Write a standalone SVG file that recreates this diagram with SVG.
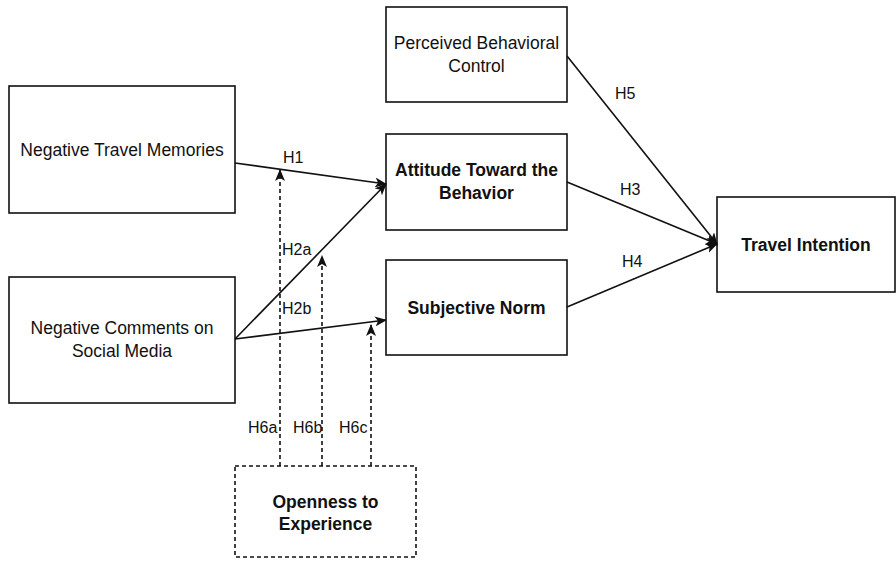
<svg xmlns="http://www.w3.org/2000/svg" width="896" height="562" viewBox="0 0 896 562">
<style>
.box{fill:#fff;stroke:#111;stroke-width:1.6}
.dbox{fill:#fff;stroke:#111;stroke-width:1.6;stroke-dasharray:4 3}
.t{font-family:"Liberation Sans",Arial,sans-serif;font-size:17.5px;fill:#111;text-anchor:middle}
.b{font-weight:bold}
.lbl{font-family:"Liberation Sans",Arial,sans-serif;font-size:16px;fill:#111}
.ln{fill:none;stroke:#111;stroke-width:1.6}
.dl{fill:none;stroke:#111;stroke-width:1.6;stroke-dasharray:4 3}
</style>
<defs>
<marker id="ah" viewBox="0 0 12 10" refX="11" refY="5" markerWidth="12" markerHeight="10" markerUnits="userSpaceOnUse" orient="auto">
<path d="M0,0 L12,5 L0,10 L3,5 Z" fill="#111"/>
</marker>
</defs>
<rect width="896" height="562" fill="#fff"/>
<g id="ntm"><rect class="box" x="9" y="86" width="226" height="127"/><text class="t" x="122" y="156">Negative Travel Memories</text></g>
<g id="ncsm"><rect class="box" x="9" y="277" width="226" height="126"/><text class="t" x="122" y="334">Negative Comments on</text><text class="t" x="122" y="357">Social Media</text></g>
<g id="pbc"><rect class="box" x="386" y="7" width="181" height="95"/><text class="t" x="476.5" y="49">Perceived Behavioral</text><text class="t" x="476.5" y="72">Control</text></g>
<g id="att"><rect class="box" x="386" y="134" width="181" height="96"/><text class="t b" x="476.5" y="176">Attitude Toward the</text><text class="t b" x="476.5" y="199">Behavior</text></g>
<g id="sn"><rect class="box" x="386" y="260" width="181" height="95"/><text class="t b" x="476.5" y="314">Subjective Norm</text></g>
<g id="ti"><rect class="box" x="717" y="197" width="178" height="95"/><text class="t b" x="806" y="251">Travel Intention</text></g>
<g id="ote"><rect class="dbox" x="235" y="466" width="181" height="91"/><text class="t b" x="325.5" y="508">Openness to</text><text class="t b" x="325.5" y="530">Experience</text></g>
<g id="connectors">
<line class="ln" x1="235" y1="163" x2="386" y2="184" marker-end="url(#ah)"/>
<line class="ln" x1="235" y1="339" x2="386" y2="184" marker-end="url(#ah)"/>
<line class="ln" x1="235" y1="339" x2="386" y2="320" marker-end="url(#ah)"/>
<line class="ln" x1="567" y1="56" x2="717" y2="244" marker-end="url(#ah)"/>
<line class="ln" x1="567" y1="182" x2="717" y2="244" marker-end="url(#ah)"/>
<line class="ln" x1="567" y1="307" x2="717" y2="244" marker-end="url(#ah)"/>
<line class="dl" x1="280" y1="466" x2="280" y2="170" marker-end="url(#ah)"/>
<line class="dl" x1="322" y1="466" x2="322" y2="256" marker-end="url(#ah)"/>
<line class="dl" x1="371" y1="466" x2="371" y2="325" marker-end="url(#ah)"/>
<text class="lbl" x="283" y="163">H1</text>
<text class="lbl" x="282" y="255">H2a</text>
<text class="lbl" x="282" y="314">H2b</text>
<text class="lbl" x="615" y="99">H5</text>
<text class="lbl" x="620" y="195">H3</text>
<text class="lbl" x="622" y="267">H4</text>
<text class="lbl" x="248" y="433">H6a</text>
<text class="lbl" x="293" y="433">H6b</text>
<text class="lbl" x="339" y="433">H6c</text>
</g>
</svg>
